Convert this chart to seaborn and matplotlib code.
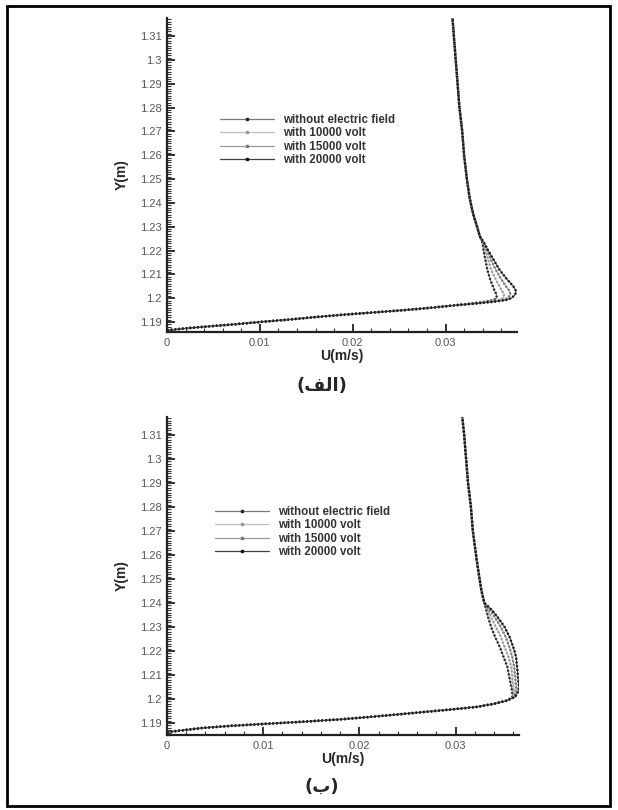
import pandas as pd
import matplotlib
matplotlib.use('Agg')
import matplotlib.pyplot as plt
import seaborn as sns
from matplotlib.lines import Line2D
from matplotlib.patches import Rectangle
from matplotlib.ticker import MultipleLocator, FuncFormatter

sns.set_style('white')
plt.rcParams['font.family'] = ['Liberation Sans', 'DejaVu Sans']

cases = ['without electric field', 'with 10000 volt', 'with 15000 volt', 'with 20000 volt']
line_colors = ['#7a7a7a', '#bdbdbd', '#9a9a9a', '#404040']
marker_colors = ['#222222', '#9a9a9a', '#777777', '#111111']

## panel (a)
y_a = [1.1865, 1.1870, 1.1875, 1.1880, 1.1890, 1.1900, 1.1910, 1.1920, 1.1930, 1.1940,
       1.1950, 1.1960, 1.1970, 1.1978, 1.1985, 1.1992, 1.2000, 1.2015, 1.2030, 1.2050,
       1.2080, 1.2120, 1.2160, 1.2200, 1.2230, 1.2260, 1.2300, 1.2350, 1.2420, 1.2500,
       1.2600, 1.2700, 1.2800, 1.2900, 1.3000, 1.3100, 1.3176]
u_a_0 = [0, 0.0012, 0.0025, 0.0040, 0.0072, 0.0100, 0.0131, 0.0158, 0.0188, 0.0222,
         0.0256, 0.0285, 0.0310, 0.0328, 0.0342, 0.0352, 0.0355, 0.0355, 0.0353, 0.0351,
         0.0348, 0.0345, 0.0343, 0.0341, 0.0340, 0.0337, 0.0334, 0.0330, 0.0326, 0.0323,
         0.0320, 0.0318, 0.0315, 0.0313, 0.0311, 0.0309, 0.03075]
u_a_10k = [0, 0.0012, 0.0025, 0.0040, 0.0072, 0.0100, 0.0131, 0.0158, 0.0188, 0.0222,
           0.0256, 0.0285, 0.0310, 0.0330, 0.0346, 0.0357, 0.0362, 0.0363, 0.0361, 0.0358,
           0.0354, 0.0349, 0.0346, 0.0343, 0.0341, 0.0337, 0.0334, 0.0330, 0.0326, 0.0323,
           0.0320, 0.0318, 0.0315, 0.0313, 0.0311, 0.0309, 0.03075]
u_a_15k = [0, 0.0012, 0.0025, 0.0040, 0.0072, 0.0100, 0.0131, 0.0158, 0.0188, 0.0222,
           0.0256, 0.0285, 0.0310, 0.0332, 0.0349, 0.0361, 0.0367, 0.0370, 0.0369, 0.0365,
           0.0360, 0.0354, 0.0349, 0.0345, 0.0341, 0.0337, 0.0334, 0.0330, 0.0326, 0.0323,
           0.0320, 0.0318, 0.0315, 0.0313, 0.0311, 0.0309, 0.03075]
u_a_20k = [0, 0.0012, 0.0025, 0.0040, 0.0072, 0.0100, 0.0131, 0.0158, 0.0188, 0.0222,
           0.0256, 0.0285, 0.0310, 0.0334, 0.0352, 0.0365, 0.0371, 0.0375, 0.0376, 0.0373,
           0.0366, 0.0358, 0.0352, 0.0346, 0.0342, 0.0337, 0.0334, 0.0330, 0.0326, 0.0323,
           0.0320, 0.0318, 0.0315, 0.0313, 0.0311, 0.0309, 0.03075]

## panel (b)
y_b = [1.1862, 1.1870, 1.1879, 1.1888, 1.1896, 1.1905, 1.1915, 1.1925, 1.1935, 1.1945,
       1.1955, 1.1967, 1.1980, 1.1993, 1.2008, 1.2030, 1.2050, 1.2090, 1.2133, 1.2175,
       1.2217, 1.2260, 1.2300, 1.2340, 1.2370, 1.2400, 1.2450, 1.2500, 1.2580, 1.2700,
       1.2800, 1.2900, 1.3000, 1.3100, 1.3175]
u_b_0 = [0, 0.0017, 0.0036, 0.0066, 0.0100, 0.0140, 0.0180, 0.0210, 0.0238, 0.0265,
         0.0292, 0.0322, 0.0340, 0.0353, 0.0359, 0.0359, 0.0358, 0.0356, 0.0354, 0.0350,
         0.0346, 0.0341, 0.0337, 0.0334, 0.0332, 0.0330, 0.0327, 0.0325, 0.0322, 0.0318,
         0.0316, 0.0313, 0.0311, 0.0309, 0.0307]
u_b_10k = [0, 0.0017, 0.0036, 0.0066, 0.0100, 0.0140, 0.0180, 0.0210, 0.0238, 0.0265,
           0.0292, 0.0322, 0.0340, 0.0353, 0.0360, 0.0361, 0.0360, 0.0359, 0.0358, 0.0355,
           0.0351, 0.0347, 0.0342, 0.0337, 0.0334, 0.0330, 0.0327, 0.0325, 0.0322, 0.0318,
           0.0316, 0.0313, 0.0311, 0.0309, 0.0307]
u_b_15k = [0, 0.0017, 0.0036, 0.0066, 0.0100, 0.0140, 0.0180, 0.0210, 0.0238, 0.0265,
           0.0292, 0.0322, 0.0340, 0.0353, 0.0361, 0.0363, 0.0363, 0.0362, 0.0361, 0.0359,
           0.0356, 0.0352, 0.0347, 0.0341, 0.0336, 0.0330, 0.0327, 0.0325, 0.0322, 0.0318,
           0.0316, 0.0313, 0.0311, 0.0309, 0.0307]
u_b_20k = [0, 0.0017, 0.0036, 0.0066, 0.0100, 0.0140, 0.0180, 0.0210, 0.0238, 0.0265,
           0.0292, 0.0322, 0.0340, 0.0353, 0.0362, 0.0365, 0.0366, 0.0365, 0.0364, 0.0363,
           0.0360, 0.0356, 0.0351, 0.0344, 0.0338, 0.0330, 0.0327, 0.0325, 0.0322, 0.0318,
           0.0316, 0.0313, 0.0311, 0.0309, 0.0307]

# captions: Arabic presentation forms in visual order so they join without a shaper
caption_a = '(\ufed2\ufedf\ufe8d)'
caption_b = '(\ufe8f)'


def make_frame(y, series):
    parts = []
    for name, u in zip(cases, series):
        parts.append(pd.DataFrame({'U': u, 'Y': y, 'case': name, 'idx': range(len(y))}))
    return pd.concat(parts, ignore_index=True)


df_a = make_frame(y_a, [u_a_0, u_a_10k, u_a_15k, u_a_20k])
df_b = make_frame(y_b, [u_b_0, u_b_10k, u_b_15k, u_b_20k])

fig = plt.figure(figsize=(6.18, 8.10), dpi=100)
ax_a = fig.add_axes([167/618, 1-332/810, 350/618, 314/810])
ax_b = fig.add_axes([167/618, 1-735/810, 352/618, 318/810])

fmt = FuncFormatter(lambda v, p: f'{round(v, 4):g}')


def draw_panel(ax, df, xlim, ylim, leg_xy):
    sns.lineplot(data=df, x='U', y='Y', hue='case', palette=line_colors, sort=False,
                 estimator=None, units=None, lw=0.8, legend=False, ax=ax)
    sns.lineplot(data=df, x='U', y='Y', hue='case', palette=marker_colors, sort=False,
                 estimator=None, lw=1.7, linestyle=(0, (0.7, 0.9)), dash_capstyle='butt',
                 legend=False, ax=ax)
    ax.set_xlim(*xlim)
    ax.set_ylim(*ylim)
    sns.despine(ax=ax)
    for s in ['left', 'bottom']:
        ax.spines[s].set_linewidth(1.6)
        ax.spines[s].set_color('#222222')
    ax.xaxis.set_major_locator(MultipleLocator(0.01))
    ax.xaxis.set_minor_locator(MultipleLocator(0.002))
    ax.yaxis.set_major_locator(MultipleLocator(0.01))
    ax.yaxis.set_minor_locator(MultipleLocator(0.001))
    ax.xaxis.set_major_formatter(fmt)
    ax.yaxis.set_major_formatter(fmt)
    ax.tick_params(which='major', direction='in', length=6, width=1.3, color='#222222',
                   labelsize=8, labelcolor='#555555', bottom=True, left=True)
    ax.tick_params(axis='x', which='major', pad=4)
    ax.tick_params(axis='y', which='major', pad=4)
    ax.tick_params(which='minor', direction='in', length=3, width=0.8, color='#333333',
                   bottom=True, left=True)
    ax.set_xlabel('U(m/s)', fontsize=10, fontweight='bold', labelpad=1)
    ax.set_ylabel('Y(m)', fontsize=10, fontweight='bold', labelpad=8)

    handles = [Line2D([0], [0], color=lc, lw=0.9, marker='s', markersize=1.8,
                      markerfacecolor=mc, markeredgecolor=mc)
               for lc, mc in zip(line_colors, marker_colors)]
    leg = ax.legend(handles, cases, loc='upper left', bbox_to_anchor=leg_xy, frameon=False,
                    numpoints=1, handlelength=4.7, handletextpad=0.8, labelspacing=0.12,
                    borderpad=0, borderaxespad=0, prop={'weight': 'bold', 'size': 8.3})
    for t in leg.get_texts():
        t.set_color('#333333')


draw_panel(ax_a, df_a, (0, 0.0377), (1.1858, 1.3176), (0.151, 0.694))
draw_panel(ax_b, df_b, (0, 0.0366), (1.1850, 1.3175), (0.136, 0.720))

fig.text(322/618, 1-386/810, caption_a, ha='center', va='center', fontsize=13,
         fontweight='bold', family=['DejaVu Sans'])
fig.text(322/618, 1-787/810, caption_b, ha='center', va='center', fontsize=13,
         fontweight='bold', family=['DejaVu Sans'])

fig.add_artist(Rectangle((7/618, 1-806/810), 603/618, 800/810, transform=fig.transFigure,
                         fill=False, lw=2, ec='black'))

fig.savefig('out.png', dpi=100)
